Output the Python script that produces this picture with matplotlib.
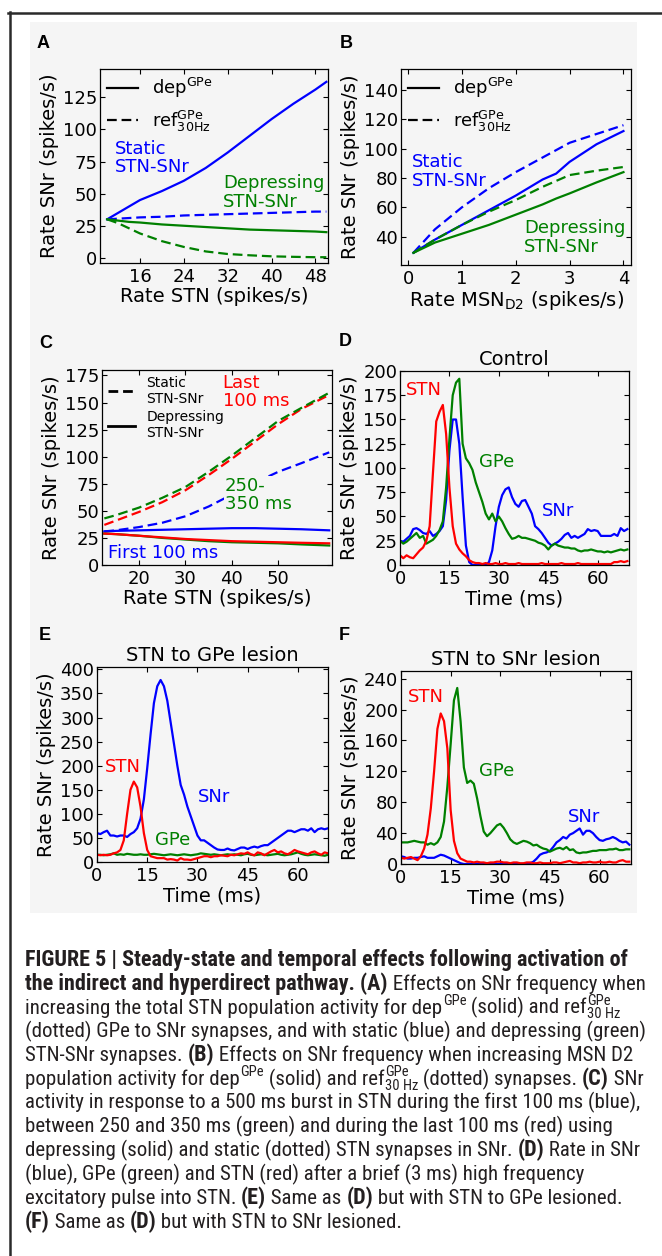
import numpy as np
import matplotlib
matplotlib.use('Agg')
import matplotlib.pyplot as plt
from matplotlib.lines import Line2D
from matplotlib.patches import Rectangle
from matplotlib import font_manager as fm

# ---------------- data ----------------
# Panel A: SNr rate vs STN rate
a_stn = [10, 12, 14, 16, 20, 24, 28, 32, 36, 40, 44, 48, 50]
a_static_dep = [30, 35, 40, 45, 52, 60, 70, 82, 95, 108, 120, 131, 137]
a_static_ref = [30, 30.5, 31, 31.5, 32, 33, 33.5, 34, 34.5, 35, 35.5, 36, 36]
a_depr_dep = [30, 29, 28, 27.5, 26, 25, 24, 23, 22, 21.5, 21, 20.5, 20]
a_depr_ref = [30, 27, 23, 19, 13, 8.5, 5, 3, 2, 1.2, 0.8, 0.5, 0.5]

# Panel B: SNr rate vs MSN D2 rate
b_msn = [0.1, 0.5, 1.0, 1.5, 2.0, 2.5, 2.75, 3.0, 3.5, 4.0]
b_static_dep = [29, 38, 48, 58, 68, 79, 83, 91, 103, 112]
b_static_ref = [29, 45, 60, 73, 84, 94, 99, 104, 110, 116]
b_depr_dep = [29, 36, 42, 48, 55, 62, 66, 69.5, 77, 84]
b_depr_ref = [29, 38, 48, 57, 65, 74, 78, 82, 85, 87.5]

# Panel C: SNr rate vs STN burst rate
c_stn = [12.5, 15, 20, 25, 30, 35, 40, 45, 50, 55, 61]
c_static_first = [31, 32, 35, 39, 45, 54, 65, 76, 86, 94, 104]
c_static_mid = [43, 46, 53, 62, 72, 86, 101, 117, 133, 145, 159]
c_static_last = [37, 41, 49, 58, 69, 83, 98, 114, 130, 144, 157]
c_depr_first = [31, 31.5, 32, 32.5, 33, 33.5, 34, 34, 33.5, 33, 32]
c_depr_mid = [29, 28.5, 27, 25, 23.5, 22, 21, 20.5, 20, 19, 18]
c_depr_last = [29, 28.5, 27, 25.5, 24, 23, 22, 21.5, 21, 20.5, 20]

# Panel D: control (time step 1 ms)
d_stn = [10, 7, 10, 8, 7, 11, 15, 18, 25, 40, 95, 148, 158, 165, 135, 80, 40, 22, 16, 12,
         9, 5, 3, 2, 2, 1, 2, 1, 1, 2, 1, 1, 2, 1, 1, 1, 2, 1, 1, 1,
         1, 1, 1, 2, 1, 1, 1, 1, 1, 2, 1, 1, 1, 1, 2, 1, 1, 1, 1, 1,
         1, 1, 1, 1, 1, 3, 3, 4, 3, 4]
d_gpe = [25, 22, 24, 27, 30, 33, 28, 30, 22, 24, 26, 30, 36, 45, 80, 130, 175, 188, 192, 125,
         110, 105, 98, 85, 75, 65, 53, 47, 53, 45, 50, 45, 38, 32, 27, 28, 30, 28, 28, 27,
         26, 25, 23, 22, 20, 16, 20, 22, 20, 19, 18, 18, 17, 17, 15, 14, 15, 15, 16, 15,
         14, 14, 13, 14, 13, 14, 15, 16, 15, 16]
d_snr = [25, 24, 27, 30, 37, 38, 36, 33, 32, 35, 30, 32, 35, 40, 67, 118, 150, 150, 125, 70,
         20, 3, 0, 0, 0, 0, 0, 3, 15, 40, 60, 72, 78, 80, 70, 63, 60, 66, 67, 60,
         53, 40, 37, 33, 28, 23, 20, 22, 24, 27, 31, 33, 28, 30, 28, 30, 32, 37, 35, 36,
         35, 30, 30, 30, 30, 32, 30, 38, 35, 37]

# Panel E: STN to GPe lesion
e_stn = [15, 14, 15, 14, 15, 18, 20, 25, 45, 100, 150, 167, 155, 115, 60, 25, 12, 10, 8, 8,
         8, 5, 6, 5, 3, 8, 5, 5, 4, 6, 8, 10, 12, 12, 10, 12, 12, 14, 13, 12,
         15, 14, 16, 18, 17, 20, 16, 14, 20, 18, 14, 18, 22, 25, 20, 22, 18, 16, 20, 25,
         22, 20, 18, 16, 20, 22, 18, 15, 20, 18]
e_gpe = [15, 15, 14, 15, 16, 18, 15, 16, 15, 17, 16, 15, 15, 16, 15, 15, 16, 17, 16, 15,
         14, 15, 16, 15, 14, 15, 16, 15, 14, 15, 16, 18, 17, 16, 15, 16, 15, 14, 15, 16,
         15, 16, 15, 14, 16, 17, 15, 14, 15, 16, 15, 14, 15, 16, 17, 15, 14, 15, 16, 18,
         20, 17, 15, 14, 15, 16, 15, 14, 13, 15]
e_snr = [60, 58, 62, 65, 55, 55, 53, 55, 55, 52, 58, 62, 70, 90, 130, 195, 265, 330, 365, 378,
         365, 335, 290, 245, 200, 160, 140, 115, 95, 75, 55, 45, 45, 40, 35, 30, 26, 25, 25, 28,
         25, 24, 27, 30, 30, 27, 30, 32, 30, 33, 35, 35, 40, 45, 50, 55, 60, 65, 65, 62,
         65, 68, 68, 65, 70, 62, 68, 70, 68, 70]

# Panel F: STN to SNr lesion
f_stn = [8, 7, 8, 9, 7, 5, 10, 20, 38, 72, 120, 175, 195, 185, 150, 70, 30, 14, 7, 5,
         3, 3, 2, 3, 2, 2, 1, 2, 2, 3, 3, 2, 2, 1, 2, 2, 1, 1, 2, 2,
         1, 1, 2, 1, 1, 1, 2, 2, 1, 2, 3, 4, 2, 2, 1, 2, 2, 3, 2, 2,
         3, 2, 2, 3, 2, 2, 4, 5, 3, 3]
f_gpe = [28, 28, 28, 29, 30, 29, 28, 28, 25, 27, 25, 28, 35, 55, 100, 155, 212, 228, 185, 125,
         105, 108, 104, 85, 62, 42, 36, 40, 45, 50, 52, 47, 40, 32, 28, 26, 28, 30, 29, 27,
         24, 25, 22, 20, 19, 16, 18, 20, 21, 19, 22, 18, 19, 15, 14, 15, 15, 16, 17, 17,
         18, 18, 18, 19, 19, 20, 18, 18, 19, 19]
f_snr = [10, 9, 7, 7, 8, 8, 9, 10, 8, 8, 8, 10, 12, 11, 9, 7, 5, 3, 1, 0,
         0, 0, 0, 0, 0, 0, 0, 0, 0, 0, 0, 0, 0, 0, 0, 0, 0, 0, 0, 1,
         3, 7, 12, 14, 15, 17, 22, 28, 31, 35, 33, 38, 40, 43, 46, 38, 43, 43, 40, 35,
         31, 30, 32, 33, 35, 33, 30, 28, 29, 25]

# ---------------- styling ----------------
W, H = 662, 1256
BLUE = (0, 0, 1)
GREEN = (0, 0.5, 0)
RED = (1, 0, 0)
DASH = (0, (7, 3.5))
LW = 1.6
TICK_FS = 13
LAB_FS = 14
ANN_FS = 13
BG = '#f5f5f5'

plt.rcParams['font.family'] = ['DejaVu Sans']
plt.rcParams['mathtext.fontset'] = 'dejavusans'
plt.rcParams['lines.scale_dashes'] = False

fig = plt.figure(figsize=(W / 100, H / 100), dpi=100)
fig.patch.set_facecolor('white')

# light-grey figure area and frame lines
fig.add_artist(Rectangle((30 / W, 1 - 913 / H), (637 - 30) / W, (913 - 22) / H,
                         transform=fig.transFigure, facecolor=BG,
                         edgecolor='none', zorder=-10))
fig.add_artist(Line2D([8 / W, 1.0], [1 - 13 / H] * 2, transform=fig.transFigure,
                      color='#2a2a2a', lw=1.8))
fig.add_artist(Line2D([10 / W, 10 / W], [1 - 12 / H, 0], transform=fig.transFigure,
                      color='#2a2a2a', lw=1.8))


def px_axes(x0, y0, x1, y1):
    ax = fig.add_axes([x0 / W, 1 - y1 / H, (x1 - x0) / W, (y1 - y0) / H])
    ax.set_facecolor('none')
    ax.tick_params(direction='in', top=True, right=True, length=3.5, width=0.8,
                   labelsize=TICK_FS)
    ax.tick_params(axis='x', pad=3.5)
    ax.tick_params(axis='y', pad=2)
    for s in ax.spines.values():
        s.set_linewidth(0.9)
    return ax


def panel_label(letter, x, y):
    fig.text(x / W, 1 - y / H, letter, fontsize=13, fontweight='bold',
             family=['Liberation Sans', 'DejaVu Sans'], ha='left', va='center')


ylab = 'Rate SNr (spikes/s)'

# ---------------- Panel A ----------------
ax = px_axes(100, 69, 328, 263)
ax.plot(a_stn, a_static_dep, color=BLUE, lw=LW)
ax.plot(a_stn, a_static_ref, color=BLUE, lw=LW, ls=DASH)
ax.plot(a_stn, a_depr_dep, color=GREEN, lw=LW)
ax.plot(a_stn, a_depr_ref, color=GREEN, lw=LW, ls=DASH)
ax.set_xlim(8.7, 50.3)
ax.set_ylim(-4, 147)
ax.set_xticks([16, 24, 32, 40, 48])
ax.set_yticks([0, 25, 50, 75, 100, 125])
ax.set_xlabel('Rate STN (spikes/s)', fontsize=LAB_FS, labelpad=1)
ax.set_ylabel(ylab, fontsize=LAB_FS, labelpad=3)
hs = [Line2D([], [], color='k', lw=LW), Line2D([], [], color='k', lw=LW, ls=DASH)]
ax.legend(hs, [r'dep$^{\mathrm{GPe}}$', r'ref$^{\mathrm{GPe}}_{\mathrm{30Hz}}$'],
          loc='upper left', frameon=False, fontsize=ANN_FS, handlelength=1.7,
          handletextpad=0.8, borderaxespad=0.2, borderpad=0.2, labelspacing=0.45)
ax.text(11.4, 92, 'Static\nSTN-SNr', color=BLUE, fontsize=ANN_FS, ha='left', va='top',
        linespacing=1.05)
ax.text(31.2, 65, 'Depressing\nSTN-SNr', color=GREEN, fontsize=ANN_FS, ha='left',
        va='top', linespacing=1.05)
panel_label('A', 37, 43)

# ---------------- Panel B ----------------
ax = px_axes(401, 69, 631, 265)
ax.plot(b_msn, b_static_dep, color=BLUE, lw=LW)
ax.plot(b_msn, b_static_ref, color=BLUE, lw=LW, ls=DASH)
ax.plot(b_msn, b_depr_dep, color=GREEN, lw=LW)
ax.plot(b_msn, b_depr_ref, color=GREEN, lw=LW, ls=DASH)
ax.set_xlim(-0.13, 4.14)
ax.set_ylim(20.7, 154.3)
ax.set_xticks([0, 1, 2, 3, 4])
ax.set_yticks([40, 60, 80, 100, 120, 140])
ax.set_xlabel(r'Rate MSN$_{\mathrm{D2}}$ (spikes/s)', fontsize=LAB_FS, labelpad=1)
ax.set_ylabel(ylab, fontsize=LAB_FS, labelpad=3)
ax.legend(hs, [r'dep$^{\mathrm{GPe}}$', r'ref$^{\mathrm{GPe}}_{\mathrm{30Hz}}$'],
          loc='upper left', frameon=False, fontsize=ANN_FS, handlelength=1.7,
          handletextpad=0.8, borderaxespad=0.2, borderpad=0.2, labelspacing=0.45)
ax.text(0.07, 97, 'Static\nSTN-SNr', color=BLUE, fontsize=ANN_FS, ha='left', va='top',
        linespacing=1.05)
ax.text(2.15, 52, 'Depressing\nSTN-SNr', color=GREEN, fontsize=ANN_FS, ha='left',
        va='top', linespacing=1.05)
panel_label('B', 340, 43)

# ---------------- Panel C ----------------
ax = px_axes(102, 370, 332, 565)
ax.plot(c_stn, c_static_first, color=BLUE, lw=LW, ls=DASH)
ax.plot(c_stn, c_static_last, color=RED, lw=LW, ls=DASH)
ax.plot(c_stn, c_static_mid, color=GREEN, lw=LW, ls=DASH)
ax.plot(c_stn, c_depr_first, color=BLUE, lw=LW)
ax.plot(c_stn, c_depr_mid, color=GREEN, lw=LW)
ax.plot(c_stn, c_depr_last, color=RED, lw=LW)
ax.set_xlim(12, 61.6)
ax.set_ylim(0, 180)
ax.set_xticks([20, 30, 40, 50])
ax.set_yticks([0, 25, 50, 75, 100, 125, 150, 175])
ax.set_xlabel('Rate STN (spikes/s)', fontsize=LAB_FS, labelpad=1)
ax.set_ylabel(ylab, fontsize=LAB_FS, labelpad=3)
hc = [Line2D([], [], color='k', lw=LW + 0.4, ls=DASH), Line2D([], [], color='k', lw=LW + 0.4)]
ax.legend(hc, ['Static\nSTN-SNr', 'Depressing\nSTN-SNr'], loc='upper left', frameon=False,
          fontsize=10, handlelength=2.0, handletextpad=0.8, borderaxespad=0.2,
          borderpad=0.2, labelspacing=0.3)
ax.text(38.0, 176, 'Last\n100 ms', color=RED, fontsize=ANN_FS, ha='left', va='top',
        linespacing=1.0)
ax.text(38.5, 81, '250-\n350 ms', color=GREEN, fontsize=ANN_FS, ha='left', va='top',
        linespacing=1.0, zorder=5,
        bbox=dict(boxstyle='square,pad=0.05', facecolor=BG, edgecolor='none'))
ax.text(13.3, 3, 'First 100 ms', color=BLUE, fontsize=ANN_FS, ha='left', va='bottom')
panel_label('C', 39, 343)

# ---------------- Panel D ----------------
ax = px_axes(400, 371, 629, 565)
ax.plot(np.arange(len(d_snr)), d_snr, color=BLUE, lw=LW)
ax.plot(np.arange(len(d_gpe)), d_gpe, color=GREEN, lw=LW)
ax.plot(np.arange(len(d_stn)), d_stn, color=RED, lw=LW)
ax.set_xlim(0, 69.5)
ax.set_ylim(0, 200)
ax.set_xticks([0, 15, 30, 45, 60])
ax.set_yticks(np.arange(0, 201, 25))
ax.set_xlabel('Time (ms)', fontsize=LAB_FS, labelpad=1)
ax.set_ylabel(ylab, fontsize=LAB_FS, labelpad=3)
ax.set_title('Control', fontsize=LAB_FS, pad=4)
ax.text(1.8, 180, 'STN', color=RED, fontsize=ANN_FS, ha='left', va='center')
ax.text(24, 106, 'GPe', color=GREEN, fontsize=ANN_FS, ha='left', va='center')
ax.text(43, 56, 'SNr', color=BLUE, fontsize=ANN_FS, ha='left', va='center')
panel_label('D', 339, 342)

# ---------------- Panel E ----------------
ax = px_axes(97, 667, 328, 862)
ax.plot(np.arange(len(e_snr)), e_snr, color=BLUE, lw=LW)
ax.plot(np.arange(len(e_gpe)), e_gpe, color=GREEN, lw=LW)
ax.plot(np.arange(len(e_stn)), e_stn, color=RED, lw=LW)
ax.set_xlim(0, 69)
ax.set_ylim(0, 405)
ax.set_xticks([0, 15, 30, 45, 60])
ax.set_yticks(np.arange(0, 401, 50))
ax.set_xlabel('Time (ms)', fontsize=LAB_FS, labelpad=1)
ax.set_ylabel(ylab, fontsize=LAB_FS, labelpad=3)
ax.set_title('STN to GPe lesion', fontsize=LAB_FS, pad=4)
ax.text(2.4, 197, 'STN', color=RED, fontsize=ANN_FS, ha='left', va='center')
ax.text(30, 135, 'SNr', color=BLUE, fontsize=ANN_FS, ha='left', va='center')
ax.text(17.3, 46, 'GPe', color=GREEN, fontsize=ANN_FS, ha='left', va='center')
panel_label('E', 39, 635)

# ---------------- Panel F ----------------
ax = px_axes(401, 671, 631, 864)
ax.plot(np.arange(len(f_snr)), f_snr, color=BLUE, lw=LW)
ax.plot(np.arange(len(f_gpe)), f_gpe, color=GREEN, lw=LW)
ax.plot(np.arange(len(f_stn)), f_stn, color=RED, lw=LW)
ax.set_xlim(0, 69.5)
ax.set_ylim(0, 250)
ax.set_xticks([0, 15, 30, 45, 60])
ax.set_yticks(np.arange(0, 241, 40))
ax.set_xlabel('Time (ms)', fontsize=LAB_FS, labelpad=1)
ax.set_ylabel(ylab, fontsize=LAB_FS, labelpad=3)
ax.set_title('STN to SNr lesion', fontsize=LAB_FS, pad=4)
ax.text(2.1, 216, 'STN', color=RED, fontsize=ANN_FS, ha='left', va='center')
ax.text(23.6, 120, 'GPe', color=GREEN, fontsize=ANN_FS, ha='left', va='center')
ax.text(50.5, 61, 'SNr', color=BLUE, fontsize=ANN_FS, ha='left', va='center')
panel_label('F', 339, 635)

# ---------------- Caption ----------------
cap_lines = [
    [('b', 'FIGURE 5 | Steady-state and temporal effects following activation of')],
    [('b', 'the indirect and hyperdirect pathway. (A)'), ('r', ' Effects on SNr frequency when')],
    [('r', 'increasing the total STN population activity for dep'), ('sup', 'GPe'),
     ('r', ' (solid) and ref'), ('supsub', 'GPe', '30 Hz')],
    [('r', '(dotted) GPe to SNr synapses, and with static (blue) and depressing (green)')],
    [('r', 'STN-SNr synapses. '), ('b', '(B)'), ('r', ' Effects on SNr frequency when increasing MSN D2')],
    [('r', 'population activity for dep'), ('sup', 'GPe'), ('r', ' (solid) and ref'),
     ('supsub', 'GPe', '30 Hz'), ('r', ' (dotted) synapses. '), ('b', '(C)'), ('r', ' SNr')],
    [('r', 'activity in response to a 500 ms burst in STN during the first 100 ms (blue),')],
    [('r', 'between 250 and 350 ms (green) and during the last 100 ms (red) using')],
    [('r', 'depressing (solid) and static (dotted) STN synapses in SNr. '), ('b', '(D)'),
     ('r', ' Rate in SNr')],
    [('r', '(blue), GPe (green) and STN (red) after a brief (3 ms) high frequency')],
    [('r', 'excitatory pulse into STN. '), ('b', '(E)'), ('r', ' Same as '), ('b', '(D)'),
     ('r', ' but with STN to GPe lesioned.')],
    [('b', '(F)'), ('r', ' Same as '), ('b', '(D)'), ('r', ' but with STN to SNr lesioned.')],
]


def has_font(name):
    try:
        fm.findfont(fm.FontProperties(family=name), fallback_to_default=False)
        return True
    except Exception:
        return False


def pick_caption_font():
    for fam in ['Liberation Sans Narrow', 'Roboto Condensed', 'Open Sans Condensed',
                'DejaVu Sans Condensed', 'Noto Sans Condensed']:
        if has_font(fam):
            return fam, 'normal'
    for fam in ['Roboto', 'Noto Sans', 'Open Sans', 'DejaVu Sans', 'Liberation Sans']:
        try:
            p = fm.findfont(fm.FontProperties(family=fam, stretch='condensed'),
                            fallback_to_default=False)
            if 'ondensed' in p or 'arrow' in p:
                return fam, 'condensed'
        except Exception:
            pass
    return 'Liberation Sans', 'normal'


cap_fam, cap_stretch = pick_caption_font()
renderer = fig.canvas.get_renderer()
CAP_COL = '#231f20'


def cap_fp(size, weight='normal'):
    return fm.FontProperties(family=cap_fam, size=size, weight=weight, stretch=cap_stretch)


def text_w(s, size, weight='normal'):
    fp = cap_fp(size, weight)
    w1 = renderer.get_text_width_height_descent('|' + s + '|', fp, ismath=False)[0]
    w0 = renderer.get_text_width_height_descent('||', fp, ismath=False)[0]
    return w1 - w0


ref_line = cap_lines[6][0][1]
cap_size = 10 * 613.0 / text_w(ref_line, 10)
bold_size = cap_size * 603.0 / text_w(cap_lines[0][0][1], cap_size, 'bold')
bold_size = min(max(bold_size, cap_size), cap_size * 1.1)
em_px = cap_size * 100 / 72.0


def put(x, y, s, size, weight='normal'):
    fig.text(x / W, 1 - y / H, s, fontproperties=cap_fp(size, weight),
             color=CAP_COL, ha='left', va='baseline')


for i, segs in enumerate(cap_lines):
    x = 25.0
    y = 966 + i * 23.8
    for seg in segs:
        kind = seg[0]
        if kind == 'r':
            put(x, y, seg[1], cap_size)
            x += text_w(seg[1], cap_size)
        elif kind == 'b':
            put(x, y, seg[1], bold_size, 'bold')
            x += text_w(seg[1], bold_size, 'bold')
        elif kind == 'sup':
            s2 = cap_size * 0.7
            put(x + 0.5, y - 0.42 * em_px, seg[1], s2)
            x += text_w(seg[1], s2) + 0.5
        elif kind == 'supsub':
            s2 = cap_size * 0.7
            put(x + 0.5, y - 0.42 * em_px, seg[1], s2)
            put(x + 0.5, y + 0.22 * em_px, seg[2], s2)
            x += max(text_w(seg[1], s2), text_w(seg[2], s2)) + 0.5

fig.savefig('out.png', dpi=100, facecolor='white')
